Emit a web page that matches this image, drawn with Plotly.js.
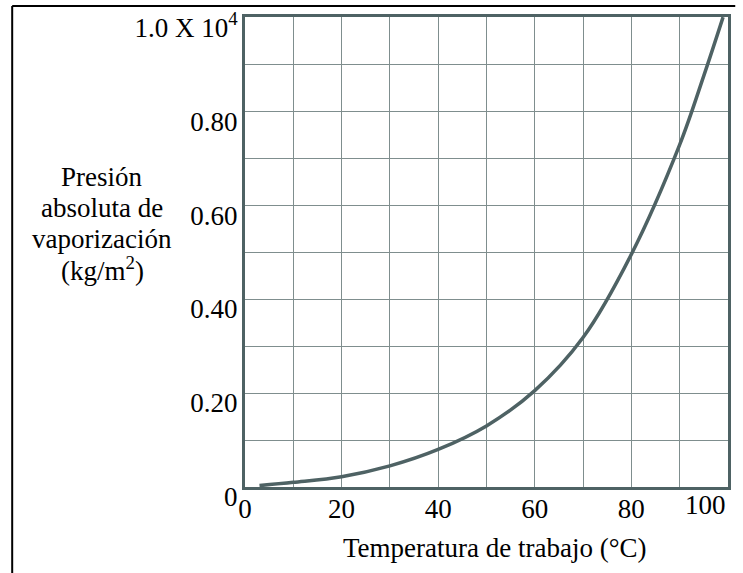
<!DOCTYPE html>
<html>
<head>
<meta charset="utf-8">
<script src="https://cdn.plot.ly/plotly-3.0.1.min.js"></script>
<style>
html,body{margin:0;padding:0;background:#fff;}
#chart{width:743px;height:573px;}
</style>
</head>
<body>
<div id="chart"></div>
<script>
// Temperature (°C) and absolute vapour pressure (x 10^4 kg/m²)
const temperature = [3, 10, 20, 30, 40, 50, 60, 70, 80, 90, 95, 99];
const pressure    = [0.003, 0.01, 0.022, 0.045, 0.08, 0.13, 0.205, 0.318, 0.495, 0.728, 0.875, 1.0];

const xTickVals = [0, 20, 40, 60, 80, 100];
const xTickText = ["0", "20", "40", "60", "80", "100"];
const yTickVals = [0, 0.2, 0.4, 0.6, 0.8, 1.0];
const yTickText = ["0", "0.20", "0.40", "0.60", "0.80", "1.0 X 10<sup>4</sup>"];

const xTitle = "Temperatura de trabajo (°C)";
const yTitleLines = ["Presión", "absoluta de", "vaporización", "(kg/m<sup>2</sup>)"];

const FONT = "Liberation Serif, Times New Roman, serif";
const INK = "#4e6264";
const GRID = "#7f8e8e";
const FS = 27;

const trace = {
  x: temperature,
  y: pressure,
  type: "scatter",
  mode: "lines",
  line: {color: INK, width: 3.5, shape: "spline", smoothing: 1},
  hoverinfo: "skip",
  showlegend: false,
  cliponaxis: false
};

// y-title lines stacked with a tight line spacing, as in the reference
const titleTop = 0.6596, titleStep = 0.0655;
const yTitleAnnotations = yTitleLines.map((t, i) => ({
  text: t,
  xref: "paper", yref: "paper",
  x: -0.296, y: titleTop - i * titleStep,
  xanchor: "center", yanchor: "middle",
  showarrow: false,
  font: {family: FONT, size: FS, color: "#000"}
}));

// the last x tick label sits right-aligned on the frame edge (it would overflow the page)
const nX = xTickVals.length;
const lastXLabel = {
  text: xTickText[nX - 1],
  xref: "x", yref: "paper",
  x: xTickVals[nX - 1], y: 0,
  xanchor: "right", yanchor: "top",
  yshift: -1,
  showarrow: false,
  font: {family: FONT, size: FS, color: "#000"}
};

const layout = {
  width: 743,
  height: 573,
  margin: {l: 245, r: 15, t: 17, b: 86},
  paper_bgcolor: "#ffffff",
  plot_bgcolor: "#ffffff",
  font: {family: FONT, size: FS, color: "#000"},
  xaxis: {
    range: [0, 100.02],
    tickvals: xTickVals.slice(0, nX - 1),
    ticktext: xTickText.slice(0, nX - 1),
    showgrid: true,
    gridcolor: GRID,
    gridwidth: 1,
    minor: {dtick: 10, showgrid: true, gridcolor: GRID, gridwidth: 1},
    zeroline: false,
    showline: true,
    mirror: true,
    linecolor: INK,
    linewidth: 3,
    ticks: "",
    ticklabelstandoff: -4,
    tickfont: {family: FONT, size: FS, color: "#000"},
    fixedrange: true
  },
  yaxis: {
    range: [0, 1.0002],
    tickvals: yTickVals,
    ticktext: yTickText,
    showgrid: true,
    gridcolor: GRID,
    gridwidth: 1,
    minor: {dtick: 0.1, showgrid: true, gridcolor: GRID, gridwidth: 1},
    zeroline: false,
    showline: true,
    mirror: true,
    linecolor: INK,
    linewidth: 3,
    ticks: "",
    ticklabelshift: 10,
    ticklabelstandoff: -1,
    tickfont: {family: FONT, size: FS, color: "#000"},
    fixedrange: true
  },
  annotations: yTitleAnnotations.concat([lastXLabel, {
    text: xTitle,
    xref: "paper", yref: "paper",
    x: 0.5176, y: -0.1298,
    xanchor: "center", yanchor: "middle",
    showarrow: false,
    font: {family: FONT, size: FS, color: "#000"}
  }]),
  shapes: [
    {type: "line", xref: "paper", yref: "paper", x0: -0.482, x1: -0.482, y0: -0.2, y1: 1.0234,
     line: {color: "#000", width: 2}},
    {type: "line", xref: "paper", yref: "paper", x0: -0.482, x1: 1.015, y0: 1.0234, y1: 1.0234,
     line: {color: "#000", width: 2}}
  ]
};

Plotly.newPlot("chart", [trace], layout, {displayModeBar: false, staticPlot: true});
</script>
</body>
</html>
